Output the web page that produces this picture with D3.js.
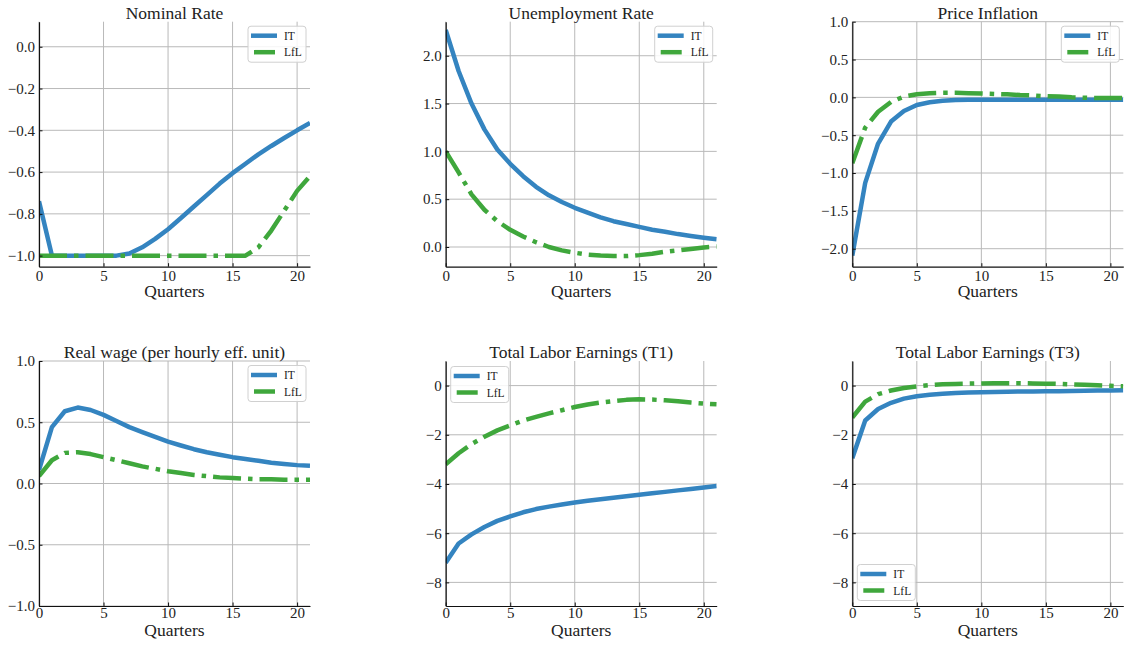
<!DOCTYPE html>
<html><head><meta charset="utf-8">
<script src="https://cdn.jsdelivr.net/npm/d3@7"></script>
<style>
body{margin:0;background:#fff}
text{font-family:"Liberation Serif","Times New Roman",serif;fill:#222}
</style>
</head><body>
<svg id="chart" width="1124" height="645"></svg>
<script>
// ---------------- data ----------------
const quarters = [0,1,2,3,4,5,6,7,8,9,10,11,12,13,14,15,16,17,18,19,20,21];
const seriesNames = ["IT","LfL"];
const xTicks = [0,5,10,15,20];

const titles = ["Nominal Rate","Unemployment Rate","Price Inflation",
                "Real wage (per hourly eff. unit)","Total Labor Earnings (T1)","Total Labor Earnings (T3)"];

const nominalIT  = [-0.74,-1,-1,-1,-1,-1,-1,-0.99,-0.96,-0.92,-0.874,-0.82,-0.765,-0.71,-0.655,-0.605,-0.56,-0.515,-0.475,-0.437,-0.40,-0.365];
const nominalLfL = [-1,-1,-1,-1,-1,-1,-1,-1,-1,-1,-1,-1,-1,-1,-1,-1,-1,-0.96,-0.88,-0.785,-0.69,-0.62];

const unempIT  = [2.27,1.84,1.5,1.23,1.02,0.87,0.74,0.63,0.54,0.47,0.41,0.36,0.31,0.27,0.24,0.21,0.18,0.16,0.135,0.115,0.097,0.08];
const unempLfL = [1.0,0.78,0.55,0.39,0.27,0.18,0.11,0.05,0.0,-0.035,-0.06,-0.08,-0.09,-0.095,-0.095,-0.085,-0.07,-0.05,-0.035,-0.02,-0.005,0.005];

const inflIT  = [-2.09,-1.13,-0.61,-0.32,-0.18,-0.1,-0.065,-0.045,-0.035,-0.03,-0.03,-0.03,-0.03,-0.03,-0.03,-0.03,-0.03,-0.03,-0.03,-0.03,-0.03,-0.03];
const inflLfL = [-0.87,-0.40,-0.19,-0.06,0.01,0.04,0.055,0.06,0.06,0.055,0.05,0.045,0.04,0.03,0.025,0.015,0.01,0.0,-0.005,-0.01,-0.01,-0.01];

const wageIT  = [0.11,0.46,0.59,0.62,0.60,0.56,0.51,0.46,0.42,0.38,0.342,0.31,0.28,0.255,0.235,0.215,0.20,0.185,0.17,0.16,0.15,0.144];
const wageLfL = [0.06,0.19,0.25,0.255,0.24,0.215,0.19,0.165,0.14,0.12,0.10,0.085,0.07,0.06,0.05,0.045,0.04,0.035,0.035,0.03,0.03,0.03];

const earnT1IT  = [-7.2,-6.42,-6.05,-5.75,-5.5,-5.32,-5.15,-5.02,-4.92,-4.83,-4.75,-4.68,-4.62,-4.56,-4.5,-4.44,-4.38,-4.32,-4.26,-4.2,-4.14,-4.08];
const earnT1LfL = [-3.2,-2.75,-2.38,-2.08,-1.82,-1.62,-1.42,-1.27,-1.13,-1.0,-0.87,-0.77,-0.69,-0.63,-0.58,-0.56,-0.57,-0.6,-0.64,-0.69,-0.73,-0.76];

const earnT3IT  = [-2.95,-1.42,-0.95,-0.7,-0.53,-0.43,-0.37,-0.33,-0.3,-0.28,-0.27,-0.26,-0.25,-0.24,-0.235,-0.23,-0.225,-0.22,-0.21,-0.2,-0.195,-0.19];
const earnT3LfL = [-1.3,-0.65,-0.35,-0.2,-0.1,-0.03,0.02,0.05,0.07,0.08,0.09,0.1,0.1,0.1,0.09,0.08,0.07,0.05,0.03,0.01,-0.01,-0.03];

const yTicksNominal = [0.0,-0.2,-0.4,-0.6,-0.8,-1.0];
const yTicksUnemp   = [0.0,0.5,1.0,1.5,2.0];
const yTicksInfl    = [1.0,0.5,0.0,-0.5,-1.0,-1.5,-2.0];
const yTicksWage    = [1.0,0.5,0.0,-0.5,-1.0];
const yTicksEarn    = [0,-2,-4,-6,-8];

// ---------------- layout / styles ----------------
const colors = {IT:"#3484c0", LfL:"#3fa73c"};
const colX = [39,445.7,852.3], rowY = [21.7,361];
const xPad = [4,1.5];
const W = 271, H = 245;
const xDomain = [0,21];

const panels = [
  {title:titles[0], it:nominalIT, lfl:nominalLfL, ticks:yTicksNominal, fmt:".1f", dom:[-1.053,0.12], c:0, r:0, leg:"ur"},
  {title:titles[1], it:unempIT,   lfl:unempLfL,   ticks:yTicksUnemp,   fmt:".1f", dom:[-0.206,2.356], c:1, r:0, leg:"ur"},
  {title:titles[2], it:inflIT,    lfl:inflLfL,    ticks:yTicksInfl,    fmt:".1f", dom:[-2.238,1.0], c:2, r:0, leg:"ur"},
  {title:titles[3], it:wageIT,    lfl:wageLfL,    ticks:yTicksWage,    fmt:".1f", dom:[-1,1], c:0, r:1, leg:"ur"},
  {title:titles[4], it:earnT1IT,  lfl:earnT1LfL,  ticks:yTicksEarn,    fmt:"d",   dom:[-8.96,1.0], c:1, r:1, leg:"ul"},
  {title:titles[5], it:earnT3IT,  lfl:earnT3LfL,  ticks:yTicksEarn,    fmt:"d",   dom:[-8.96,1.0], c:2, r:1, leg:"ll"}
];

const svg = d3.select("#chart");
const minus = s => s.replace(/-/g,"\u2212");

panels.forEach((p,i)=>{
  const ox = colX[p.c], oy = rowY[p.r];
  const g = svg.append("g").attr("transform",`translate(${ox},${oy})`);
  const x = d3.scaleLinear().domain(xDomain).range([0,W]);
  const y = d3.scaleLinear().domain(p.dom).range([H,0]);

  // grid
  g.append("g").selectAll("line").data(xTicks).join("line")
    .attr("x1",d=>x(d)).attr("x2",d=>x(d)).attr("y1",0).attr("y2",H)
    .attr("stroke","#b9b9b9").attr("stroke-width",1);
  g.append("g").selectAll("line").data(p.ticks).join("line")
    .attr("y1",d=>y(d)).attr("y2",d=>y(d)).attr("x1",0).attr("x2",W)
    .attr("stroke","#b9b9b9").attr("stroke-width",1);

  // clip
  const cid = "clip"+i;
  g.append("clipPath").attr("id",cid).append("rect").attr("x",0).attr("y",0).attr("width",W).attr("height",H);

  const line = d3.line().x((d,j)=>x(quarters[j])).y(d=>y(d));
  const lg = g.append("g").attr("clip-path",`url(#${cid})`);
  lg.append("path").datum(p.it).attr("d",line).attr("fill","none")
    .attr("stroke",colors.IT).attr("stroke-width",4.5).attr("stroke-linejoin","round");
  lg.append("path").datum(p.lfl).attr("d",line).attr("fill","none")
    .attr("stroke",colors.LfL).attr("stroke-width",4.5)
    .attr("stroke-dasharray","28,7,4.5,7").attr("stroke-linejoin","round");

  // axes
  const fmt = d3.format(p.fmt);
  const ya = d3.axisLeft(y).tickValues(p.ticks).tickSizeInner(-3.5).tickSizeOuter(0).tickPadding(4)
    .tickFormat(d=>minus(fmt(d)));
  const xa = d3.axisBottom(x).tickValues(xTicks).tickSizeInner(-3.5).tickSizeOuter(0).tickPadding(xPad[p.r]);
  const yg = g.append("g").call(ya);
  const xg = g.append("g").attr("transform",`translate(0,${H})`).call(xa);
  [yg,xg].forEach(a=>{
    a.attr("font-family",'"Liberation Serif",serif').attr("font-size",15);
    a.select(".domain").attr("stroke","#111").attr("stroke-width",1.2);
    a.selectAll(".tick line").attr("stroke","#111");
    a.selectAll("text").style("font-family",'"Liberation Serif",serif').style("font-size","15px").attr("fill","#222");
  });
  xg.selectAll("text").attr("dy","0.71em");

  // title
  g.append("text").attr("x",W/2).attr("y",-3).attr("text-anchor","middle")
    .style("font-size","17.5px").text(p.title);
  // x label
  g.append("text").attr("x",W/2).attr("y",H+30).attr("text-anchor","middle")
    .style("font-size","17.5px").text("Quarters");

  // legend
  const lw = 58, lh = 36;
  let lx, ly;
  if (p.leg==="ur"){ lx = W-lw-4; ly = 4.5; }
  else if (p.leg==="ul"){ lx = 5; ly = 5.5; }
  else { lx = 5; ly = H-lh-5.5; }
  const leg = g.append("g").attr("transform",`translate(${lx},${ly})`);
  leg.append("rect").attr("width",lw).attr("height",lh).attr("rx",3)
    .attr("fill","#fff").attr("fill-opacity",0.85).attr("stroke","#d0d0d0").attr("stroke-width",1);
  seriesNames.forEach((s,k)=>{
    const yy = 9.5 + k*16.5;
    leg.append("line").attr("x1", s==="LfL" ? 6 : 3).attr("x2",29).attr("y1",yy).attr("y2",yy)
      .attr("stroke",colors[s]).attr("stroke-width",4.5)
      .attr("stroke-dasharray", s==="LfL" ? "21,4,2,40" : null);
    leg.append("text").attr("x",36).attr("y",yy+4).style("font-size","11.5px").text(s);
  });
});
</script>
</body></html>
